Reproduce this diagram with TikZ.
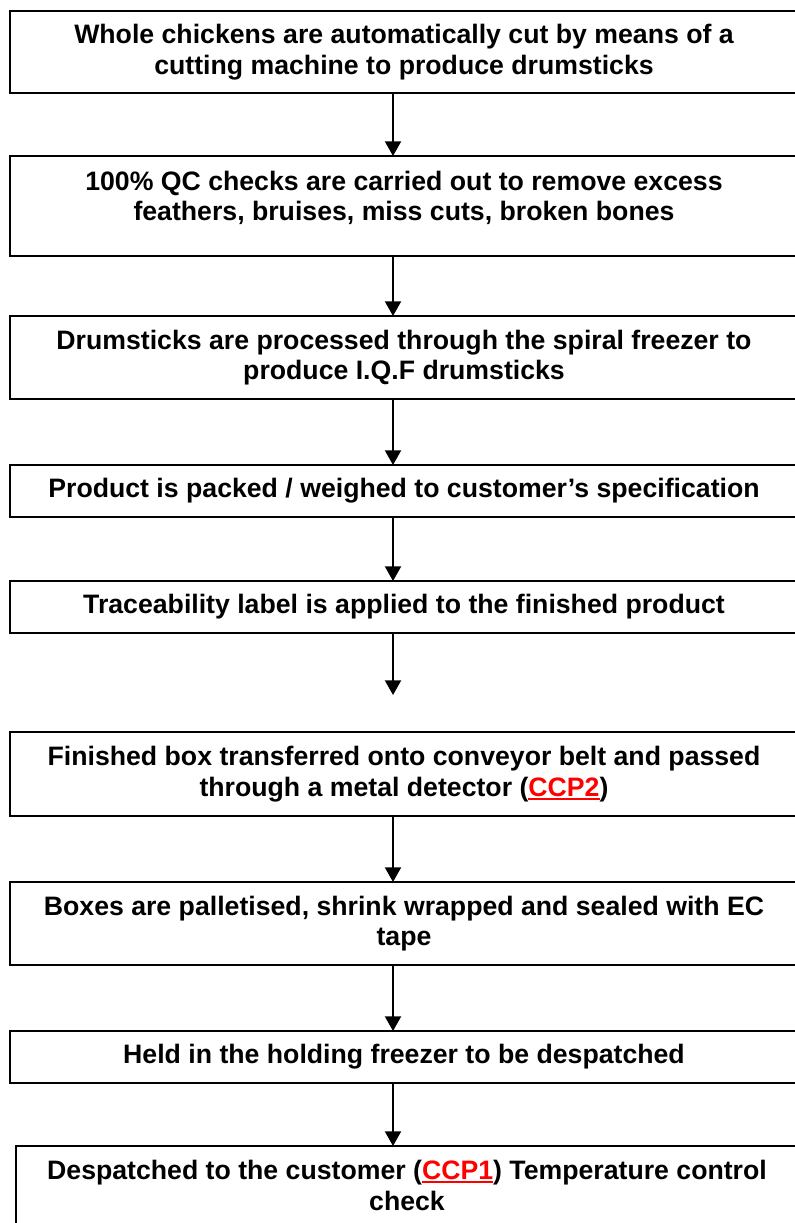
\documentclass[tikz,border=0pt]{standalone}
\usepackage{fontspec}
\setmainfont{Liberation Sans}
\usetikzlibrary{positioning,arrows.meta}
\definecolor{ccpred}{RGB}{255,0,0}
\newcommand{\ccpmark}[1]{\textcolor{ccpred}{\setbox0\hbox{#1}\rlap{\rule[-2.6pt]{\wd0}{1.3pt}}\box0}}

\begin{document}
\begin{tikzpicture}[every node/.style={font=\bfseries\fontsize{20}{23}\selectfont}]
  \tikzset{stepbox/.style={draw, line width=1.5pt, minimum width=591pt, align=center, inner sep=4pt, outer sep=0pt},
           flowarrow/.style={-{Triangle[width=12pt,length=11pt]}, line width=1.5pt}}
  \useasboundingbox (0,0) rectangle (596.25pt,-917.25pt);
  \clip (0,0) rectangle (596.25pt,-917.25pt);
  \coordinate (axis) at (294.75pt,0);
  \node[stepbox, minimum height=61.5pt] (cut) at (303pt,-39pt) {Whole chickens are automatically cut by means of a\\ cutting machine to produce drumsticks};
  \node[stepbox, minimum height=75pt, text depth=15pt, below=47.25pt of cut] (qc) {100\% QC checks are carried out to remove excess\\ feathers, bruises, miss cuts, broken bones};
  \node[stepbox, minimum height=62.25pt, below=45pt of qc] (freeze) {Drumsticks are processed through the spiral freezer to\\ produce I.Q.F drumsticks};
  \node[stepbox, minimum height=39pt, below=49.5pt of freeze] (pack) {Product is packed / weighed to customer’s specification};
  \node[stepbox, minimum height=39pt, below=48pt of pack] (label) {Traceability label is applied to the finished product};
  \node[stepbox, minimum height=63pt, below=74.25pt of label] (detect) {Finished box transferred onto conveyor belt and passed\\ through a metal detector (\ccpmark{CCP2})};
  \node[stepbox, minimum height=62.25pt, below=49.5pt of detect] (pallet) {Boxes are palletised, shrink wrapped and sealed with EC\\ tape};
  \node[stepbox, minimum height=39pt, below=49.5pt of pallet] (hold) {Held in the holding freezer to be despatched};
  \node[stepbox, minimum height=59.25pt, minimum width=586.5pt, below=47.25pt of hold, xshift=2.25pt] (despatch) {Despatched to the customer (\ccpmark{CCP1}) Temperature control\\ check};
  \coordinate (labelend) at ([yshift=27.75pt]detect.north -| axis);
  \draw[flowarrow] (cut.south -| axis) -- (qc.north -| axis);
  \draw[flowarrow] (qc.south -| axis) -- (freeze.north -| axis);
  \draw[flowarrow] (freeze.south -| axis) -- (pack.north -| axis);
  \draw[flowarrow] (pack.south -| axis) -- (label.north -| axis);
  \draw[flowarrow] (label.south -| axis) -- (labelend);
  \draw[flowarrow] (detect.south -| axis) -- (pallet.north -| axis);
  \draw[flowarrow] (pallet.south -| axis) -- (hold.north -| axis);
  \draw[flowarrow] (hold.south -| axis) -- (despatch.north -| axis);
\end{tikzpicture}
\end{document}
